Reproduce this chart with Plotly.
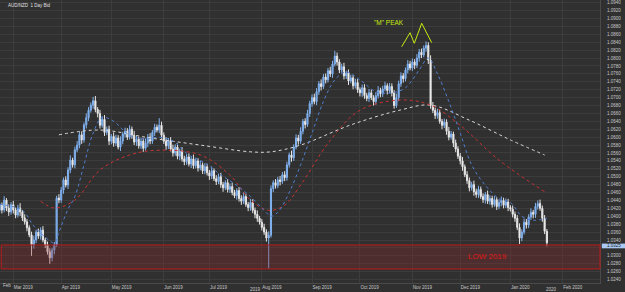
import pandas as pd
import plotly.graph_objects as go

# ---- data (AUD/NZD daily candles) ----
first_open = 1.0415
close = [
    1.0429, 1.0416, 1.0441, 1.0421, 1.0411, 1.0429, 1.0416, 1.0403, 1.0421, 1.0411,
    1.0396, 1.0386, 1.0371, 1.0353, 1.0328, 1.0340, 1.0360, 1.0350, 1.0365, 1.0340,
    1.0328, 1.0310, 1.0295, 1.0315, 1.0328, 1.0446, 1.0441, 1.0466, 1.0492, 1.0479,
    1.0517, 1.0542, 1.0530, 1.0568, 1.0580, 1.0606, 1.0593, 1.0631, 1.0649, 1.0668,
    1.0681, 1.0692, 1.0670, 1.0660, 1.0630, 1.0645, 1.0612, 1.0620, 1.0590, 1.0602,
    1.0585, 1.0598, 1.0575, 1.0590, 1.0608, 1.0615, 1.0600, 1.0620, 1.0605, 1.0588,
    1.0595, 1.0578, 1.0590, 1.0572, 1.0585, 1.0600, 1.0590, 1.0612, 1.0625, 1.0618,
    1.0630, 1.0605, 1.0590, 1.0578, 1.0592, 1.0570, 1.0560, 1.0575, 1.0552, 1.0565,
    1.0545, 1.0538, 1.0550, 1.0532, 1.0545, 1.0528, 1.0540, 1.0522, 1.0530, 1.0515,
    1.0525, 1.0510, 1.0502, 1.0515, 1.0495, 1.0488, 1.0500, 1.0480, 1.0472, 1.0485,
    1.0468, 1.0475, 1.0460, 1.0452, 1.0465, 1.0445, 1.0438, 1.0450, 1.0430, 1.0422,
    1.0435, 1.0415, 1.0405, 1.0395, 1.0385, 1.0372, 1.0360, 1.0345, 1.0352, 1.0470,
    1.0485, 1.0478, 1.0492, 1.0488, 1.0505, 1.0498, 1.0530, 1.0555, 1.0548, 1.0575,
    1.0598, 1.0590, 1.0615, 1.0640, 1.0632, 1.0660, 1.0685, 1.0700, 1.0690, 1.0715,
    1.0735, 1.0728, 1.0752, 1.0745, 1.0768, 1.0760, 1.0785, 1.0805, 1.0790, 1.0770,
    1.0778, 1.0755, 1.0762, 1.0742, 1.0750, 1.0730, 1.0738, 1.0720, 1.0712, 1.0725,
    1.0705, 1.0698, 1.0712, 1.0700, 1.0690, 1.0705, 1.0718, 1.0710, 1.0722, 1.0730,
    1.0718, 1.0728, 1.0712, 1.0680, 1.0700, 1.0735, 1.0755, 1.0748, 1.0770, 1.0785,
    1.0775, 1.0790, 1.0782, 1.0800, 1.0815, 1.0808, 1.0825, 1.0832, 1.0795, 1.0680,
    1.0668, 1.0655, 1.0662, 1.0640, 1.0630, 1.0638, 1.0615, 1.0600, 1.0608, 1.0585,
    1.0570, 1.0552, 1.0540, 1.0525, 1.0505, 1.0490, 1.0472, 1.0480, 1.0462, 1.0455,
    1.0468, 1.0450, 1.0442, 1.0455, 1.0438, 1.0445, 1.0430, 1.0442, 1.0425, 1.0435,
    1.0440, 1.0428, 1.0436, 1.0422, 1.0418, 1.0405, 1.0395, 1.0372, 1.0345, 1.0360,
    1.0385, 1.0378, 1.0398, 1.0410, 1.0405, 1.0425, 1.0432, 1.0420, 1.0395, 1.0362,
    1.0333,
]
# upper / lower wick lengths in pips, read per candle
up_pips = [
    8, 6, 10, 5, 9, 7, 10, 6, 8, 12,
    5, 9, 7, 6, 8, 11, 6, 9, 7, 10,
    6, 8, 9, 5, 7, 6, 10, 8, 6, 9,
    7, 12, 6, 8, 10, 7, 9, 6, 11, 8,
    7, 10, 12, 6, 9, 8, 11, 7, 9, 6,
    10, 8, 7, 12, 6, 9, 8, 10, 7, 11,
    8, 6, 9, 7, 12, 8, 10, 6, 9, 7,
    18, 9, 7, 10, 6, 8, 11, 7, 9, 6,
    10, 8, 7, 9, 6, 11, 8, 7, 10, 6,
    9, 8, 7, 11, 6, 9, 8, 10, 7, 6,
    9, 8, 10, 7, 6, 9, 8, 11, 7, 6,
    9, 8, 7, 10, 6, 8, 9, 7, 10, 8,
    6, 9, 8, 10, 7, 9, 8, 6, 11, 7,
    9, 8, 10, 6, 8, 9, 7, 8, 10, 9,
    7, 11, 8, 9, 7, 10, 8, 13, 9, 7,
    8, 10, 6, 9, 8, 7, 10, 9, 6, 8,
    9, 7, 10, 8, 6, 9, 11, 7, 8, 10,
    6, 9, 8, 7, 10, 8, 9, 7, 6, 10,
    8, 9, 7, 10, 8, 9, 7, 10, 8, 12,
    9, 7, 10, 8, 6, 9, 7, 11, 8, 6,
    9, 7, 8, 10, 6, 9, 8, 7, 10, 8,
    9, 7, 8, 6, 10, 8, 7, 9, 6, 8,
    10, 7, 9, 8, 6, 9, 7, 8, 10, 7,
    9, 8, 7, 10, 6, 9, 8, 10, 7, 8,
    6,
]
dn_pips = [
    7, 9, 6, 8, 10, 7, 9, 8, 6, 10,
    8, 7, 9, 6, 28, 10, 8, 7, 9, 6,
    8, 7, 15, 9, 11, 5, 8, 7, 9, 6,
    10, 8, 7, 9, 6, 8, 10, 7, 9, 8,
    6, 9, 7, 10, 8, 6, 9, 7, 10, 8,
    9, 7, 6, 10, 8, 9, 7, 6, 9, 8,
    10, 7, 8, 9, 6, 10, 8, 7, 9, 6,
    8, 9, 7, 10, 8, 6, 9, 7, 8, 10,
    7, 9, 8, 6, 10, 8, 7, 9, 6, 8,
    9, 7, 10, 8, 6, 9, 7, 8, 10, 6,
    8, 9, 7, 6, 10, 8, 9, 7, 6, 9,
    8, 7, 10, 9, 6, 8, 7, 9, 77, 6,
    9, 8, 7, 10, 6, 9, 8, 7, 10, 8,
    6, 9, 7, 8, 10, 6, 9, 8, 7, 9,
    8, 10, 6, 9, 7, 8, 10, 6, 9, 8,
    7, 9, 8, 10, 6, 9, 7, 8, 9, 10,
    8, 7, 9, 6, 10, 8, 7, 9, 8, 6,
    10, 7, 9, 8, 6, 9, 8, 10, 7, 9,
    6, 8, 10, 7, 9, 8, 6, 9, 10, 8,
    7, 9, 8, 6, 10, 7, 9, 8, 6, 10,
    8, 7, 9, 10, 6, 8, 9, 7, 10, 8,
    9, 6, 8, 10, 7, 9, 8, 6, 9, 7,
    10, 8, 7, 9, 6, 8, 9, 7, 15, 8,
    6, 9, 8, 7, 10, 9, 8, 6, 9, 7,
    9,
]

# moving averages (dotted), read at a few candle positions
ma_fast_idx = [0, 10, 15, 22, 24, 26, 30, 33, 37, 41, 45, 50, 57, 64, 70, 76, 83, 90, 97, 104,
               110, 116, 119, 122, 127, 132, 137, 142, 147, 152, 158, 165, 172, 178, 184, 188,
               192, 197, 202, 207, 213, 219, 224, 229, 234, 240]
ma_fast_val = [1.0430, 1.0415, 1.0375, 1.0338, 1.0332, 1.0360, 1.0418, 1.0450, 1.0530, 1.0610,
               1.0650, 1.0640, 1.0605, 1.0595, 1.0600, 1.0590, 1.0555, 1.0535, 1.0505, 1.0478,
               1.0450, 1.0415, 1.0400, 1.0410, 1.0460, 1.0530, 1.0610, 1.0690, 1.0745, 1.0765,
               1.0745, 1.0715, 1.0712, 1.0725, 1.0770, 1.0800, 1.0760, 1.0690, 1.0610, 1.0530,
               1.0478, 1.0445, 1.0435, 1.0400, 1.0390, 1.0395]
ma_mid_idx = [18, 24, 33, 44, 57, 70, 88, 101, 110, 118, 125, 132, 145, 158, 176, 189, 202, 219, 239]
ma_mid_val = [1.0438, 1.0421, 1.0441, 1.0517, 1.0555, 1.0567, 1.0555, 1.0504, 1.0441, 1.0415, 1.0428, 1.0479, 1.0592, 1.0668, 1.0694, 1.0681, 1.0630, 1.0542, 1.0462]
ma_slow_idx = [26, 44, 66, 88, 110, 119, 132, 154, 176, 189, 206, 224, 239]
ma_slow_val = [1.0606, 1.0618, 1.0598, 1.0580, 1.0563, 1.0563, 1.0580, 1.0631, 1.0669, 1.0681, 1.0643, 1.0593, 1.0555]

low_zone = [1.02668, 1.03275]
last_price = 1.0325
y_ticks = [round(1.0240 + 0.002 * k, 4) for k in range(36)]

# ---- build ----
dates = pd.bdate_range("2019-02-21", periods=len(close))
opens = [first_open] + close[:-1]
highs = [max(o, c) + u * 0.0001 for o, c, u in zip(opens, close, up_pips)]
lows = [min(o, c) - d * 0.0001 for o, c, d in zip(opens, close, dn_pips)]

BG = "#303030"
GRID = "#3c3c3c"
TXT = "#c8c8c8"
FONT = "Liberation Sans"

fig = go.Figure()
fig.add_trace(go.Candlestick(
    x=dates, open=opens, high=highs, low=lows, close=close,
    increasing=dict(line=dict(color="#82b2ef", width=1), fillcolor="#6e9de2"),
    decreasing=dict(line=dict(color="#e6e6e6", width=1), fillcolor="#f6f6f6"),
    whiskerwidth=0, showlegend=False, hoverinfo="skip",
))
for idx, val, col in [(ma_slow_idx, ma_slow_val, "#d8d8d8"),
                      (ma_mid_idx, ma_mid_val, "#c83232"),
                      (ma_fast_idx, ma_fast_val, "#4f7fd0")]:
    fig.add_trace(go.Scatter(
        x=[dates[i] for i in idx], y=val, mode="lines",
        line=dict(color=col, width=1, dash="dot", shape="spline"),
        showlegend=False, hoverinfo="skip"))

fig.add_shape(type="rect", xref="paper", x0=0.002, x1=1, yref="y",
              y0=low_zone[0], y1=low_zone[1],
              fillcolor="rgba(140,40,40,0.32)", line=dict(color="#b81c1c", width=1), layer="above")

W, H = 600.0, 283.0
def px(x, y):
    return x / W, 1 - y / H

mpts = [(401.7, 46.7), (410, 32.7), (414.3, 43.3), (421.7, 23.3), (431.7, 42.7)]
path = ""
for k, (x, y) in enumerate(mpts):
    a, b = px(x, y)
    path += ("M" if k == 0 else "L") + f"{a},{b} "
fig.add_shape(type="path", xref="paper", yref="paper", path=path,
              line=dict(color="#c8ec10", width=1))

# current price tag on the price scale
fig.add_shape(type="rect", xref="paper", yref="y", x0=1.003, x1=1.045,
              y0=last_price - 0.0006, y1=last_price + 0.0006,
              fillcolor="#a9c9f2", line=dict(width=0), layer="above")

ann = []
a, b = px(389, 22)
ann.append(dict(x=a, y=b, xref="paper", yref="paper", text='"M" PEAK', showarrow=False,
                font=dict(size=6.5, color="#c8ec10", family=FONT), xanchor="center", yanchor="middle"))
a, b = px(487, 256)
ann.append(dict(x=a, y=b, xref="paper", yref="paper", text="LOW 2019", showarrow=False,
                font=dict(size=8, color="#e01818", family=FONT), xanchor="center", yanchor="middle"))
a, b = px(6, 5.3)
ann.append(dict(x=a, y=b, xref="paper", yref="paper", text="AUD/NZD&nbsp;&nbsp;1 Day Bid", showarrow=False,
                font=dict(size=4.5, color="#e0e0e0", family=FONT), xanchor="left", yanchor="middle"))
a, b = px(0.5, 285.5)
ann.append(dict(x=a, y=b, xref="paper", yref="paper", text="Feb", showarrow=False,
                font=dict(size=4.5, color=TXT, family=FONT), xanchor="left", yanchor="middle"))
for yr, xx in [("2019", 255), ("2020", 551)]:
    a, b = px(xx, 289.5)
    ann.append(dict(x=a, y=b, xref="paper", yref="paper", text=yr, showarrow=False,
                    font=dict(size=4.5, color=TXT, family=FONT), xanchor="center", yanchor="middle"))
ann.append(dict(x=1.0, y=last_price, xref="paper", yref="y", text=f"{last_price:.4f}", showarrow=False,
                font=dict(size=4.5, color="#202020", family=FONT), xanchor="left", yanchor="middle",
                xshift=5))
fig.update_layout(annotations=ann)

fig.update_layout(
    width=625, height=292, autosize=False,
    margin=dict(l=0, r=25, t=0, b=9),
    paper_bgcolor=BG, plot_bgcolor=BG,
    xaxis=dict(type="date", rangeslider=dict(visible=False),
               range=["2019-02-21 04:00", "2020-02-25 07:00"],
               rangebreaks=[dict(bounds=["sat", "mon"])],
               tick0="2019-01-01", dtick="M1", tickformat="%b %Y",
               ticklabelposition="outside right", ticks="", showgrid=True,
               gridcolor=GRID, gridwidth=1, zeroline=False,
               showline=True, linecolor="#4a4a4a",
               tickfont=dict(size=4.5, color=TXT, family=FONT), ticklabelstandoff=0),
    yaxis=dict(side="right", range=[1.02313, 1.09468],
               tickmode="array", tickvals=y_ticks,
               ticktext=["" if abs(v - 1.032) < 1e-9 else f"{v:.4f}" for v in y_ticks],
               showgrid=True, gridcolor=GRID, gridwidth=1, zeroline=False,
               showline=True, linecolor="#4a4a4a", ticks="", ticklabelstandoff=5,
               tickfont=dict(size=4.5, color=TXT, family=FONT)),
)
fig.write_html("out.html")
